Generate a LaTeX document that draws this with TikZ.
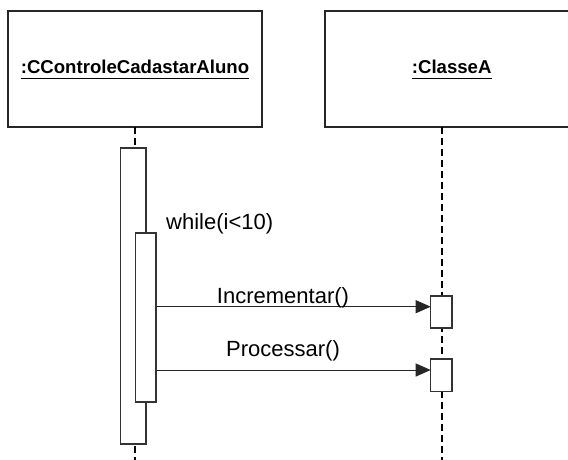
\documentclass[tikz,border=0pt]{standalone}
\usepackage{fontspec}
\setmainfont{Liberation Sans}
\usetikzlibrary{arrows.meta}
\begin{document}
\begin{tikzpicture}[x=1pt,y=-1pt,
  objbox/.style={draw=black!85,line width=1.4pt,fill=white,minimum width=254pt,minimum height=116pt,inner sep=0pt},
  objname/.style={inner sep=0pt,anchor=base,font=\fontsize{18.6}{20}\bfseries\selectfont},
  uline/.style={line width=1.5pt,black},
  lifeline/.style={line width=2pt,black,dash pattern=on 7pt off 4pt},
  actbox/.style={draw=black!80,line width=1.2pt,fill=white,inner sep=0pt},
  msg/.style={line width=1pt,black!85,-{Triangle[length=15pt,width=13pt]}},
  msglabel/.style={inner sep=0pt,anchor=base,font=\fontsize{22}{24}\selectfont}]
\useasboundingbox (0,0) rectangle (568,460);
\clip (0,0) rectangle (568,460);
% object boxes
\node[objbox] (objA) at (135,69) {};
\node[objbox] (objB) at (452,69) {};
\node[objname] (nameA) at (135,73.3) {:CControleCadastarAluno};
\node[objname] (nameB) at (451.7,73.3) {:ClasseA};
\draw[uline] ([yshift=-5pt]nameA.base west) -- ([yshift=-5pt]nameA.base east);
\draw[uline] ([yshift=-5pt]nameB.base west) -- ([yshift=-5pt]nameB.base east);
% lifelines
\coordinate (topA) at (135,127);
\coordinate (topB) at (441.7,127);
\coordinate (endA) at (135,460);
\coordinate (endB) at (441.7,460);
\draw[lifeline] (topA) -- (endA);
\draw[lifeline] (topB) -- (endB);
% activations
\node[actbox,minimum width=25.3pt,minimum height=296pt] (actOuter) at (133.35,296) {};
\node[actbox,minimum width=20.3pt,minimum height=169pt] (actInner) at (145.85,317.5) {};
\node[actbox,minimum width=21.3pt,minimum height=32pt] (act1) at (441.35,312) {};
\node[actbox,minimum width=21.3pt,minimum height=32.7pt] (act2) at (441.35,375.35) {};
% messages
\coordinate (m1) at (430.7,306.7);
\coordinate (m2) at (430.7,370);
\draw[msg] (actInner.east |- m1) -- (m1);
\draw[msg] (actInner.east |- m2) -- (m2);
% labels
\node[msglabel,anchor=base west] (lwhile) at (166,229.3) {while(i<10)};
\node[msglabel] (lInc) at (283,303.3) {Incrementar()};
\node[msglabel] (lProc) at (283,356.5) {Processar()};
\end{tikzpicture}
\end{document}
